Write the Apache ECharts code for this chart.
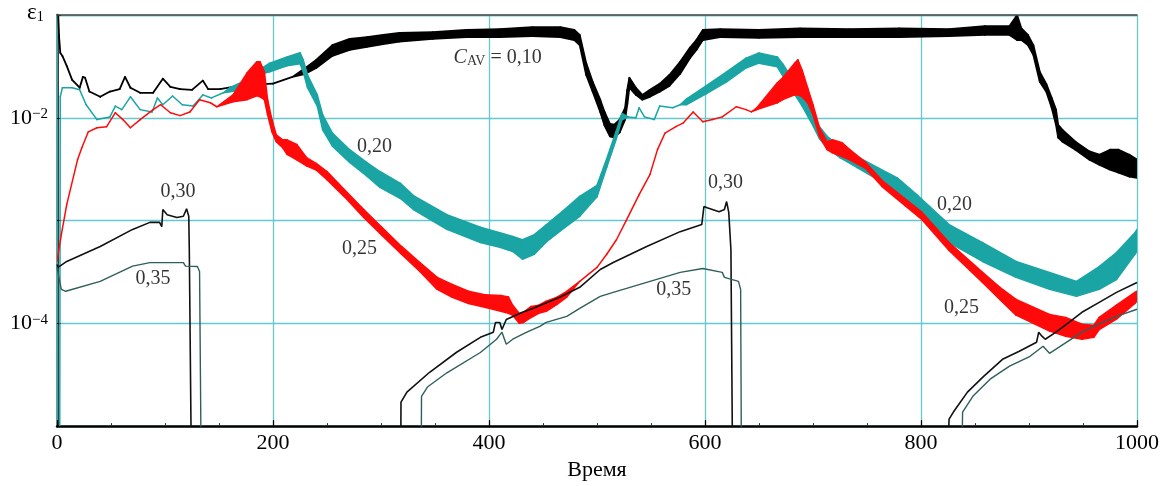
<!DOCTYPE html>
<html>
<head>
<meta charset="utf-8">
<script src="https://cdn.jsdelivr.net/npm/echarts@6/dist/echarts.min.js"></script>
<style>
  html, body { margin: 0; padding: 0; background: #fff; }
  #chart { width: 1163px; height: 486px; }
</style>
</head>
<body>
<div id="chart"></div>
<script>
// ---- ε1 versus time for several C_AV values ----
// Oscillating parts are given as upper/lower envelopes (hi/lo); where the curve is thin hi == lo.

// C_AV = 0.10
const t10  = [0, 2, 3, 5, 9, 14, 21, 24, 26, 30, 40, 49, 58, 63, 68, 77, 89, 98, 105, 114, 125, 135, 140, 151, 163, 181, 200, 218,
              230, 240, 255, 271, 287, 302, 317, 348, 379, 410, 440, 466, 479, 484, 490, 496, 503, 507, 512, 516, 521, 526, 528, 530,
              536, 542, 549, 558, 567, 577, 586, 592, 598, 614, 650, 688, 734, 780, 826, 859, 882, 889, 893, 899, 904, 910, 916, 921,
              925, 927, 931, 943, 956, 965, 975, 983, 993, 1000];
const hi10 = [2e-1, 6.0e-2, 4.3e-2, 4.0e-2, 3.2e-2, 2.34e-2, 1.96e-2, 2.5e-2, 2.45e-2, 1.8e-2, 1.6e-2, 1.8e-2, 1.9e-2, 2.5e-2, 1.96e-2,
              1.75e-2, 1.75e-2, 2.4e-2, 2.0e-2, 1.9e-2, 1.87e-2, 2.3e-2, 1.9e-2, 1.9e-2, 2.0e-2, 2.1e-2, 2.15e-2, 2.5e-2,
              3.05e-2, 3.66e-2, 5.1e-2, 5.85e-2, 6.1e-2, 6.4e-2, 6.7e-2, 6.8e-2, 7.15e-2, 7.3e-2, 7.6e-2, 7.6e-2, 7.15e-2, 6.4e-2,
              3.4e-2, 2.24e-2, 1.5e-2, 1.14e-2, 8.7e-3, 8.56e-3, 9.57e-3, 1.25e-2, 1.87e-2, 2.45e-2,
              1.96e-2, 1.67e-2, 1.87e-2, 2.14e-2, 2.61e-2, 3.5e-2, 4.8e-2, 5.7e-2, 7.15e-2, 7.3e-2, 7.15e-2, 7.4e-2, 7.3e-2, 7.4e-2,
              7.3e-2, 7.8e-2, 7.8e-2, 1.0e-1, 7.4e-2, 6.4e-2, 5.1e-2, 2.8e-2, 2.14e-2, 1.56e-2,
              1.2e-2, 8.56e-3, 7.64e-3, 5.85e-3, 4.7e-3, 4.37e-3, 4.89e-3, 4.89e-3, 4.37e-3, 3.91e-3];
const lo10 = [2e-1, 6.0e-2, 4.3e-2, 4.0e-2, 3.2e-2, 2.34e-2, 1.96e-2, 2.5e-2, 2.45e-2, 1.8e-2, 1.6e-2, 1.8e-2, 1.9e-2, 2.5e-2, 1.96e-2,
              1.75e-2, 1.75e-2, 2.4e-2, 2.0e-2, 1.9e-2, 1.87e-2, 2.3e-2, 1.9e-2, 1.9e-2, 2.0e-2, 2.1e-2, 2.15e-2, 2.5e-2,
              2.68e-2, 3.05e-2, 4.0e-2, 4.57e-2, 4.9e-2, 5.2e-2, 5.5e-2, 5.85e-2, 6.1e-2, 6.1e-2, 6.25e-2, 6.1e-2, 5.7e-2, 5.1e-2,
              2.61e-2, 1.79e-2, 1.14e-2, 8.4e-3, 6.6e-3, 6.4e-3, 7.2e-3, 9.57e-3, 1.34e-2, 1.96e-2,
              1.67e-2, 1.5e-2, 1.6e-2, 1.79e-2, 2.04e-2, 2.68e-2, 3.8e-2, 4.57e-2, 5.7e-2, 6.1e-2, 6.0e-2, 6.1e-2, 6.1e-2, 6.1e-2,
              6.25e-2, 6.4e-2, 6.4e-2, 5.7e-2, 5.7e-2, 5.1e-2, 4.09e-2, 2.24e-2, 1.79e-2, 1.25e-2,
              8.56e-3, 6.4e-3, 5.85e-3, 4.89e-3, 3.91e-3, 3.5e-3, 3.13e-3, 2.92e-3, 2.68e-3, 2.6e-3];

// C_AV = 0.20
const t20  = [2.5, 3, 5, 14, 21, 27, 37, 49, 54, 60, 68, 77, 88, 93, 98, 107, 116, 126, 135, 143, 154,
              160, 172, 190, 197, 213, 225, 228, 232, 241, 246, 255, 271, 287, 299, 318, 330, 361, 392, 410, 422, 431, 442, 453,
              470, 484, 500, 509, 518, 523, 529, 536, 539, 544, 553, 558, 570, 577,
              583, 601, 620, 638, 650, 667, 672, 678, 690, 700, 706, 713, 725, 741, 760, 778, 796, 808, 826, 857, 888, 919, 944,
              965, 981, 998, 1000];
const hi20 = [5e-6, 1.6e-2, 1.96e-2, 1.96e-2, 1.87e-2, 1.34e-2, 9.6e-3, 1.02e-2, 1.3e-2, 1.2e-2, 1.6e-2, 1.2e-2, 1.14e-2, 1.56e-2,
              1.34e-2, 1.63e-2, 1.34e-2, 1.3e-2, 1.67e-2, 1.56e-2, 1.75e-2,
              1.96e-2, 2.24e-2, 3.05e-2, 3.4e-2, 3.9e-2, 4.3e-2, 3.66e-2, 2.61e-2, 1.67e-2, 1.07e-2, 7.1e-3, 4.89e-3, 3.66e-3,
              3.0e-3, 2.3e-3, 1.75e-3, 1.14e-3, 8.6e-4, 7.6e-4, 7.0e-4, 6.5e-4, 7.3e-4, 9.1e-4,
              1.28e-3, 1.72e-3, 2.2e-3, 4.0e-3, 7.5e-3, 1.1e-2, 1.02e-2, 1.0e-2, 1.25e-2, 1.02e-2, 9.6e-3, 1.3e-2, 1.25e-2, 1.34e-2,
              1.53e-2, 2.04e-2, 2.8e-2, 3.8e-2, 4.28e-2, 3.9e-2, 3.34e-2, 2.67e-2, 1.71e-2, 1.1e-2, 8.18e-3, 6.6e-3, 5.23e-3,
              4.18e-3, 3.27e-3, 2.6e-3, 1.79e-3, 1.37e-3, 9.14e-4, 6.1e-4, 4.0e-4, 3.13e-4, 2.56e-4,
              3.57e-4, 4.89e-4, 7.6e-4, 8.2e-4];
const lo20 = [5e-6, 1.6e-2, 1.96e-2, 1.96e-2, 1.87e-2, 1.34e-2, 9.6e-3, 1.02e-2, 1.3e-2, 1.2e-2, 1.6e-2, 1.2e-2, 1.14e-2, 1.56e-2,
              1.34e-2, 1.63e-2, 1.34e-2, 1.3e-2, 1.67e-2, 1.56e-2, 1.75e-2,
              1.79e-2, 1.87e-2, 2.68e-2, 2.8e-2, 3.2e-2, 3.35e-2, 2.8e-2, 1.96e-2, 1.3e-2, 7.64e-3, 5.3e-3, 3.67e-3, 2.7e-3,
              2.1e-3, 1.64e-3, 1.28e-3, 8.2e-4, 6.1e-4, 5.5e-4, 5.0e-4, 4.2e-4, 4.7e-4, 6.2e-4,
              8.55e-4, 1.1e-3, 1.7e-3, 3.3e-3, 6.3e-3, 9.57e-3, 1.02e-2, 1.0e-2, 1.25e-2, 1.02e-2, 9.6e-3, 1.3e-2, 1.25e-2, 1.34e-2,
              1.34e-2, 1.71e-2, 2.24e-2, 3.05e-2, 3.4e-2, 3.13e-2, 2.56e-2, 2.04e-2, 1.3e-2, 8.4e-3, 6.25e-3, 5.1e-3, 4.09e-3,
              3.27e-3, 2.5e-3, 1.91e-3, 1.28e-3, 9.35e-4, 6.1e-4, 4.0e-4, 2.8e-4, 2.14e-4, 1.83e-4,
              2.14e-4, 2.67e-4, 4.7e-4, 5.0e-4];

// C_AV = 0.25
const t25  = [0, 4, 9, 19, 23, 29, 37, 46, 54, 61, 68, 77, 89, 96, 105, 114, 123, 132, 142, 148,
              163, 176, 185, 188, 192, 195, 199, 203, 209, 213, 222, 231, 240, 250, 266, 284, 301, 319, 336, 352, 366, 381, 396,
              411, 418, 422, 428, 432, 439, 446, 453, 463, 472,
              484, 500, 509, 518, 527, 539, 549, 556, 563, 573, 580, 589, 598, 607, 616, 629, 638, 643,
              648, 667, 672, 683, 686, 690, 695, 700, 706, 713, 718, 727, 734, 749, 764, 785, 801, 826, 857, 873, 888, 919, 934,
              949, 960, 965, 981, 998, 1000];
const hi25 = [4.0e-4, 7.3e-4, 1.43e-3, 3.9e-3, 5.1e-3, 7.3e-3, 8.0e-3, 8.2e-3, 1.12e-2, 9.6e-3, 8.0e-3, 9.6e-3, 1.2e-2, 1.34e-2,
              1.12e-2, 1.05e-2, 1.14e-2, 1.5e-2, 1.4e-2, 1.28e-2,
              1.67e-2, 2.74e-2, 3.5e-2, 3.5e-2, 2.8e-2, 1.5e-2, 9.6e-3, 6.84e-3, 6.1e-3, 6.1e-3, 5.5e-3, 4.1e-3, 3.6e-3, 3.0e-3,
              2.0e-3, 1.28e-3, 8.55e-4, 5.6e-4, 3.9e-4, 2.8e-4, 2.39e-4, 2.05e-4, 1.9e-4,
              1.87e-4, 1.8e-4, 1.5e-4, 1.25e-4, 1.28e-4, 1.46e-4, 1.5e-4, 1.64e-4, 1.8e-4, 2.05e-4,
              2.56e-4, 3.5e-4, 4.7e-4, 6.5e-4, 1.0e-3, 1.79e-3, 2.8e-3, 4.9e-3, 7.1e-3, 8.2e-3, 8.93e-3, 1.14e-2, 9.14e-3, 9.6e-3,
              1.02e-2, 1.28e-2, 1.2e-2, 1.14e-2,
              1.25e-2, 2.19e-2, 2.45e-2, 3.4e-2, 3.66e-2, 2.9e-2, 1.96e-2, 1.34e-2, 8.0e-3, 5.85e-3, 6.1e-3, 5.72e-3, 4.9e-3,
              3.66e-3, 2.45e-3, 1.64e-3, 1.2e-3, 6.1e-4, 3.13e-4, 2.24e-4, 1.71e-4, 1.22e-4, 1.14e-4,
              9.8e-5, 9.6e-5, 1.14e-4, 1.5e-4, 2.0e-4, 2.05e-4];
const lo25 = [4.0e-4, 7.3e-4, 1.43e-3, 3.9e-3, 5.1e-3, 7.3e-3, 8.0e-3, 8.2e-3, 1.12e-2, 9.6e-3, 8.0e-3, 9.6e-3, 1.2e-2, 1.34e-2,
              1.12e-2, 1.05e-2, 1.14e-2, 1.5e-2, 1.4e-2, 1.28e-2,
              1.43e-2, 1.5e-2, 1.64e-2, 1.6e-2, 1.5e-2, 1.07e-2, 7.3e-3, 5.85e-3, 5.1e-3, 4.4e-3, 3.9e-3, 3.4e-3, 3.1e-3, 2.5e-3,
              1.71e-3, 1.07e-3, 7.15e-4, 4.7e-4, 3.2e-4, 2.14e-4, 1.79e-4, 1.56e-4, 1.43e-4,
              1.31e-4, 1.25e-4, 1.2e-4, 1.0e-4, 1.02e-4, 1.14e-4, 1.25e-4, 1.31e-4, 1.53e-4, 1.8e-4,
              2.56e-4, 3.5e-4, 4.7e-4, 6.5e-4, 1.0e-3, 1.79e-3, 2.8e-3, 4.9e-3, 7.1e-3, 8.2e-3, 8.93e-3, 1.14e-2, 9.14e-3, 9.6e-3,
              1.02e-2, 1.28e-2, 1.2e-2, 1.14e-2,
              1.2e-2, 1.4e-2, 1.5e-2, 1.67e-2, 1.67e-2, 1.6e-2, 1.4e-2, 1.07e-2, 6.6e-3, 4.9e-3, 4.57e-3, 4.2e-3, 3.9e-3,
              3.2e-3, 2.14e-3, 1.4e-3, 1.02e-3, 5.11e-4, 2.5e-4, 1.71e-4, 1.2e-4, 8.4e-5, 7.5e-5,
              7.0e-5, 7.3e-5, 8.7e-5, 1.1e-4, 1.56e-4, 1.64e-4];

// C_AV = 0.30 (null separates the cycles; 1e-6 lies below the axis floor)
const t30 = [0, 1, 9, 40, 70, 86, 95, 97, 98, 102, 111, 117, 120, 122, 122.5, 125, 200,
             318, 318.5, 324, 345, 370, 392, 404, 406, 410, 412, 416, 431, 441, 466, 484, 503, 515, 546, 577, 597, 599, 602,
             613, 618, 620, 622, 624, 626, 700,
             822, 826, 830, 843, 858, 876, 891, 907, 909, 912, 915, 925, 937, 949, 965, 981, 1000];
const e30 = [3.74e-4, 3.5e-4, 4.0e-4, 5.6e-4, 8.2e-4, 9.6e-4, 9.6e-4, 8.7e-4, 1.28e-3, 1.14e-3, 1.07e-3, 1.1e-3, 1.3e-3, 1.1e-3,
             5.2e-4, 1e-6, null,
             1e-6, 1.71e-5, 2.14e-5, 3.34e-5, 5.23e-5, 7.31e-5, 8.2e-5, 1.02e-4, 1.02e-4, 8.7e-5, 1.09e-4, 1.28e-4, 1.4e-4,
             1.8e-4, 2.24e-4, 3.34e-4, 3.9e-4, 5.6e-4, 7.8e-4, 9.14e-4, 1.37e-3, 1.33e-3,
             1.22e-3, 1.28e-3, 1.53e-3, 1.2e-3, 5.2e-4, 1e-6, null,
             1e-6, 1.17e-5, 1.37e-5, 2.14e-5, 3.05e-5, 4.5e-5, 5.35e-5, 6.54e-5, 8.2e-5, 7.5e-5, 7.0e-5, 8.2e-5, 1.02e-4,
             1.28e-4, 1.6e-4, 2.0e-4, 2.5e-4];

// C_AV = 0.35
const t35 = [0, 4, 8, 40, 70, 86, 117, 119, 130, 132, 134, 200,
             337, 337.5, 343, 361, 392, 407, 412, 416, 422, 435, 447, 453, 472, 484, 503, 515, 546, 577, 598, 616, 618, 631,
             633, 634, 700,
             837, 838.5, 848, 864, 882, 901, 913, 919, 925, 949, 968, 981, 1000];
const e35 = [3.5e-4, 2.14e-4, 2.05e-4, 2.56e-4, 3.6e-4, 3.9e-4, 3.9e-4, 3.6e-4, 3.57e-4, 3.2e-4, 1e-6, null,
             1e-6, 1.95e-5, 2.4e-5, 3.3e-5, 5.2e-5, 7.0e-5, 8.2e-5, 6.25e-5, 7.0e-5, 8.2e-5, 9.35e-5, 1.02e-4, 1.17e-4,
             1.4e-4, 1.83e-4, 2.0e-4, 2.5e-4, 3.13e-4, 3.42e-4, 3.13e-4, 2.8e-4, 2.56e-4,
             2.14e-4, 1e-6, null,
             1e-6, 1.37e-5, 1.95e-5, 2.86e-5, 3.83e-5, 4.78e-5, 5.98e-5, 5.11e-5, 5.6e-5, 8.2e-5, 1.02e-4, 1.17e-4, 1.37e-4];

// curve annotations
const noteX    = [112, 89, 294, 280, 408, 619, 571, 831, 837.5];
const noteY    = [1.91e-3, 2.73e-4, 5.22e-3, 5.35e-4, 3.83e-2, 2.34e-3, 2.14e-4, 1.43e-3, 1.43e-4];
const noteText = ['0,30', '0,35', '0,20', '0,25', '{i|C}{s|AV} = 0,10', '0,30', '0,35', '0,20', '0,25'];

// axis ticks
const xTicks = [0, 200, 400, 600, 800, 1000];
const yLabelled = [-2, -4];   // decades that carry a label

const SERIF = '"Liberation Serif", "DejaVu Serif", serif';
const GRID = '#64c8cc';
const INK = '#000';

// envelope band drawn segment by segment through the axis scales
function band(name, t, hi, lo, color, width, z) {
  const data = [];
  for (let i = 0; i < t.length - 1; i++) {
    data.push([t[i], hi[i], lo[i], t[i + 1], hi[i + 1], lo[i + 1]]);
  }
  return {
    name, type: 'custom', z, clip: true, silent: true,
    encode: { x: [0, 3], y: [1, 2, 4, 5] },
    data,
    renderItem(params, api) {
      const a = api.coord([api.value(0), api.value(1)]);
      const b = api.coord([api.value(3), api.value(4)]);
      const c = api.coord([api.value(3), api.value(5)]);
      const d = api.coord([api.value(0), api.value(2)]);
      return {
        type: 'polygon',
        shape: { points: [a, b, c, d] },
        style: { fill: color, stroke: color, lineWidth: width, lineJoin: 'round' }
      };
    }
  };
}

function thin(name, t, e, color, width, z) {
  return {
    name, type: 'line', z, clip: true, silent: true,
    symbol: 'none', connectNulls: false,
    data: t.map((v, i) => [v, e[i]]),
    lineStyle: { color, width }
  };
}

const chart = echarts.init(document.getElementById('chart'), null, { renderer: 'canvas' });

chart.setOption({
  animation: false,
  backgroundColor: '#fff',
  grid: { left: 57, right: 26, top: 15, bottom: 59, containLabel: false },
  xAxis: [{
    type: 'value', min: xTicks[0], max: xTicks[xTicks.length - 1], interval: 200,
    name: 'Время', nameLocation: 'middle', nameGap: 30,
    nameTextStyle: { fontFamily: SERIF, fontSize: 22, color: INK },
    axisLine: { show: true, lineStyle: { color: '#000', width: 2.5 } },
    axisTick: { show: true, inside: true, length: 6, lineStyle: { color: '#000', width: 1.2 } },
    minorTick: { show: true, splitNumber: 4, length: 3, lineStyle: { color: '#333', width: 1 } },
    axisLabel: { fontFamily: SERIF, fontSize: 22, color: INK, margin: 6, formatter: v => String(v) },
    splitLine: { show: true, lineStyle: { color: GRID, width: 1.3 } }
  }, {
    type: 'value', position: 'top', min: 0, max: 1000, z: 5,
    axisLine: { show: true, lineStyle: { color: '#4a4a4a', width: 1.5 } },
    axisTick: { show: false }, axisLabel: { show: false }, splitLine: { show: false }
  }],
  yAxis: [{
    type: 'log', logBase: 10, min: 1e-5, max: 1e-1,
    axisLine: { show: true, lineStyle: { color: '#000', width: 2.5 } },
    axisTick: { show: true, inside: true, length: 4, lineStyle: { color: '#000' } },
    axisLabel: {
      margin: 9,
      formatter: function (v) {
        const p = Math.round(Math.log10(v));
        return yLabelled.indexOf(p) >= 0 ? '{b|10}{s|\u2212' + (-p) + '}' : '';
      },
      rich: {
        b: { fontFamily: SERIF, fontSize: 22, color: INK, verticalAlign: 'bottom' },
        s: { fontFamily: SERIF, fontSize: 15, color: INK, verticalAlign: 'top' }
      }
    },
    splitLine: { show: true, lineStyle: { color: GRID, width: 1.3 } }
  }, {
    type: 'log', logBase: 10, min: 1e-5, max: 1e-1, position: 'right',
    axisLine: { show: true, lineStyle: { color: GRID, width: 1.5 } },
    axisTick: { show: false }, axisLabel: { show: false }, splitLine: { show: false }
  }],
  graphic: [{
    type: 'text', left: 27, top: 1, z: 20,
    style: {
      text: '{e|\u03b5}{s|1}',
      rich: {
        e: { fontFamily: SERIF, fontSize: 23, fill: INK, verticalAlign: 'top' },
        s: { fontFamily: SERIF, fontSize: 14, fill: INK, verticalAlign: 'bottom' }
      }
    }
  }],
  series: [
    band('C_AV 0,10', t10, hi10, lo10, '#000000', 1.8, 2),
    band('C_AV 0,20', t20, hi20, lo20, '#1ba4a4', 1.5, 3),
    band('C_AV 0,25', t25, hi25, lo25, '#ff0a0a', 1.5, 4),
    thin('C_AV 0,30', t30, e30, '#111111', 1.6, 5),
    thin('C_AV 0,35', t35, e35, '#2f5f5a', 1.4, 5),
    {
      name: 'notes', type: 'scatter', z: 10, silent: true,
      symbolSize: 1, itemStyle: { color: 'rgba(0,0,0,0)' },
      data: noteX.map((x, i) => ({ value: [x, noteY[i]], label: { formatter: noteText[i] } })),
      label: {
        show: true, position: 'inside',
        fontFamily: SERIF, fontSize: 20, color: INK,
        rich: {
          i: { fontFamily: SERIF, fontSize: 20, fontStyle: 'italic', color: INK, verticalAlign: 'top' },
          s: { fontFamily: SERIF, fontSize: 14, color: INK, verticalAlign: 'bottom' }
        }
      }
    }
  ]
});
</script>
</body>
</html>
